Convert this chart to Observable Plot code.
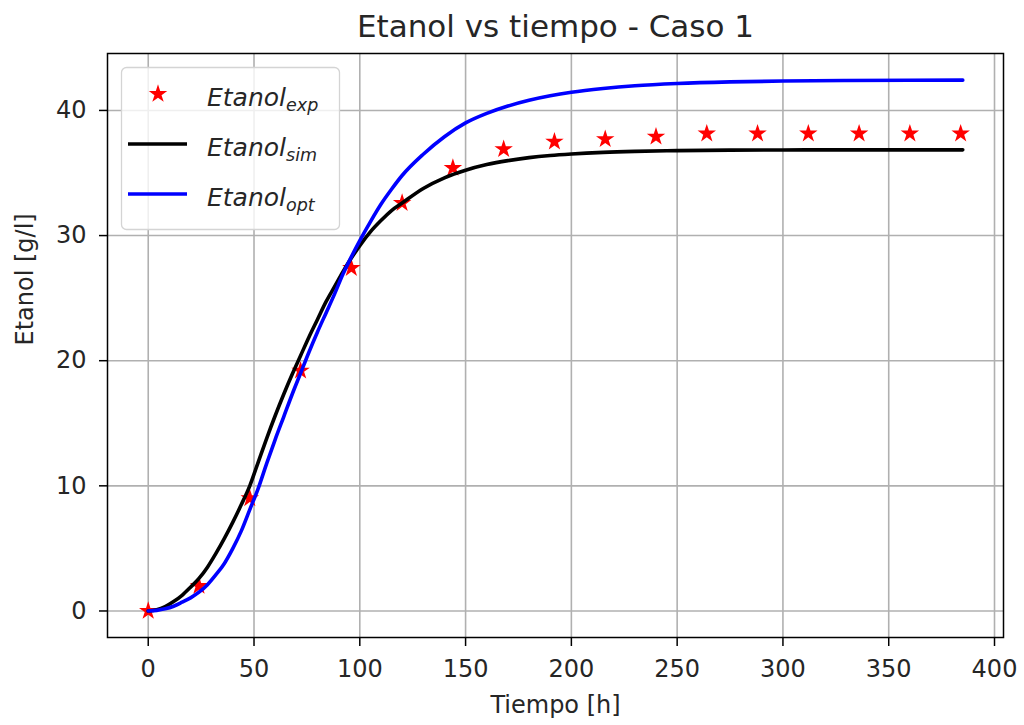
<!DOCTYPE html>
<html>
<head>
<meta charset="utf-8">
<script src="https://cdn.jsdelivr.net/npm/d3@7"></script>
<script src="https://cdn.jsdelivr.net/npm/@observablehq/plot@0.6"></script>
<style>
  html, body { margin: 0; padding: 0; background: #fff; }
  #wrap { position: relative; width: 1024px; height: 725px; font-family: "DejaVu Sans", sans-serif; }
  #legend { position: absolute; left: 0; top: 0; pointer-events: none; }
</style>
</head>
<body>
<div id="wrap"></div>
<script>
// ---- data ----
const titleText = "Etanol vs tiempo - Caso 1";
const xLabel = "Tiempo [h]";
const yLabel = "Etanol [g/l]";
const xTicks = [0, 50, 100, 150, 200, 250, 300, 350, 400];
const yTicks = [0, 10, 20, 30, 40];

const tExp = [0, 24, 48, 72, 96, 120, 144, 168, 192, 216, 240, 264, 288, 312, 336, 360, 384];
const etanolExp = [0, 2.0, 9.0, 19.2, 27.4, 32.6, 35.4, 36.9, 37.5, 37.7, 37.9, 38.15, 38.15, 38.15, 38.15, 38.15, 38.15];

const tModel = [0,4,8,12,16,20,24,28,32,36,40,44,48,52,56,60,64,68,72,76,80,84,88,92,96,100,105,110,115,120,130,140,150,160,170,180,190,200,215,230,250,275,300,330,360,385];
const etanolSim = [0,0.1,0.35,0.75,1.25,1.9,2.6,3.5,4.6,5.8,7.1,8.5,10.0,11.9,13.8,15.6,17.3,18.9,20.4,21.9,23.3,24.7,25.9,27.1,28.2,29.2,30.3,31.2,32.0,32.6,33.76,34.61,35.22,35.67,35.99,36.23,36.4,36.52,36.65,36.73,36.79,36.83,36.84,36.85,36.85,36.85];
const etanolOpt = [0,0.05,0.17,0.38,0.7,1.05,1.5,2.1,2.9,3.8,5.0,6.4,8.1,9.8,11.8,13.7,15.5,17.3,19.0,20.7,22.3,23.8,25.3,26.9,28.3,29.6,31.1,32.5,33.7,34.8,36.5,37.9,39.0,39.76,40.35,40.81,41.17,41.45,41.75,41.97,42.15,42.28,42.35,42.39,42.41,42.42];

const legendItems = [
  {name: "Etanol", sub: "exp", kind: "star", color: "red"},
  {name: "Etanol", sub: "sim", kind: "line", color: "black"},
  {name: "Etanol", sub: "opt", kind: "line", color: "blue"}
];

const expData = tExp.map((t, i) => ({t, v: etanolExp[i]}));
const simData = tModel.map((t, i) => ({t, v: etanolSim[i]}));
const optData = tModel.map((t, i) => ({t, v: etanolOpt[i]}));

const gridColor = "#b0b0b0";

const chart = Plot.plot({
  width: 1024,
  height: 725,
  marginLeft: 107,
  marginRight: 21,
  marginTop: 53,
  marginBottom: 88,
  style: {fontFamily: "DejaVu Sans, sans-serif", fontSize: "24px", color: "#262626", background: "#fff"},
  x: {domain: [-19.25, 404.25]},
  y: {domain: [-2.12, 44.55]},
  marks: [
    Plot.gridX(xTicks, {stroke: gridColor, strokeOpacity: 1, strokeWidth: 1.6}),
    Plot.gridY(yTicks, {stroke: gridColor, strokeOpacity: 1, strokeWidth: 1.6}),
    Plot.axisX(xTicks, {tickSize: 9, tickPadding: 13, fontSize: 24, strokeWidth: 1.5, stroke: "#000", label: null}),
    Plot.axisY(yTicks, {tickSize: 8, tickPadding: 13, fontSize: 24, strokeWidth: 1.5, stroke: "#000", label: null}),
    Plot.text([xLabel], {frameAnchor: "bottom", dy: 68, lineAnchor: "middle", fontSize: 24, fill: "#262626"}),
    Plot.text([yLabel], {frameAnchor: "left", dx: -82, rotate: -90, fontSize: 24, fill: "#262626"}),
    Plot.text([titleText], {frameAnchor: "top", dy: -26, lineAnchor: "middle", fontSize: 31, fill: "#262626"}),
    Plot.dot(expData, {x: "t", y: "v", symbol: "star", r: 5.8, fill: "red", stroke: "none"}),
    Plot.line(simData, {x: "t", y: "v", stroke: "black", strokeWidth: 3.6, curve: "monotone-x"}),
    Plot.line(optData, {x: "t", y: "v", stroke: "blue", strokeWidth: 3.6, curve: "monotone-x"}),
    Plot.frame({stroke: "#000", strokeWidth: 1.5})
  ]
});

const wrap = document.getElementById("wrap");
wrap.appendChild(chart);

// ---- legend (overlay) ----
const lg = d3.select(wrap).append("svg")
  .attr("id", "legend").attr("width", 1024).attr("height", 725)
  .style("font-family", "DejaVu Sans, sans-serif");
lg.append("rect")
  .attr("x", 121.5).attr("y", 67.5).attr("width", 218).attr("height", 162)
  .attr("rx", 5).attr("fill", "white").attr("fill-opacity", 0.8)
  .attr("stroke", "#d4d4d4").attr("stroke-width", 1.3);
const starPath = d3.symbol(d3.symbolStar, Math.PI * 5.8 * 5.8)();
legendItems.forEach((d, i) => {
  const cy = 94 + i * 50;
  if (d.kind === "star") {
    lg.append("path").attr("d", starPath).attr("transform", `translate(158,${cy})`).attr("fill", d.color);
  } else {
    lg.append("line").attr("x1", 128).attr("x2", 187).attr("y1", cy).attr("y2", cy)
      .attr("stroke", d.color).attr("stroke-width", 3.6);
  }
  const tx = lg.append("text").attr("x", 207).attr("y", cy + 12)
    .attr("font-size", 25).attr("font-style", "italic").attr("fill", "#262626");
  tx.append("tspan").text(d.name);
  tx.append("tspan").attr("font-size", 17.5).attr("dy", 5).text(d.sub);
});
</script>
</body>
</html>
